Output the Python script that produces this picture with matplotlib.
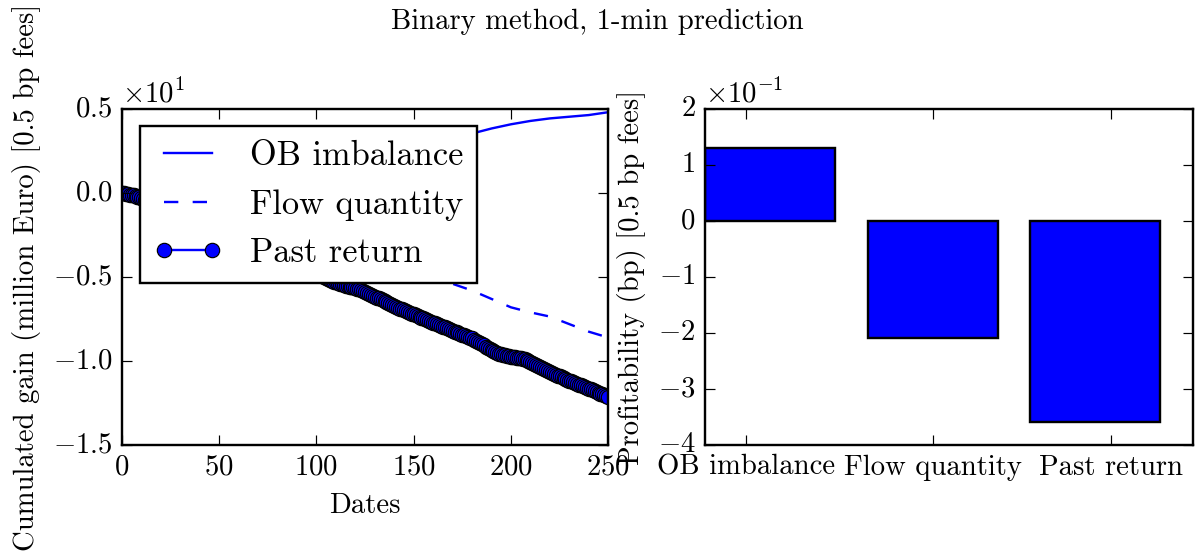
import numpy as np
import matplotlib
matplotlib.use('Agg')
import matplotlib.pyplot as plt

plt.style.use('classic')
plt.rcParams['font.family'] = 'serif'
plt.rcParams['font.serif'] = ['cmr10']
plt.rcParams['mathtext.fontset'] = 'cm'
plt.rcParams['axes.formatter.use_mathtext'] = True
plt.rcParams['savefig.facecolor'] = 'white'

DPI = 172

# cumulated gain per date (million Euro)
dates_past = np.arange(0, 251)
past_return = [
    0.00, -0.02, -0.04, -0.07, -0.09, -0.12, -0.14, -0.17, -0.21, -0.25,
    -0.30, -0.34, -0.39, -0.43, -0.48, -0.52, -0.57, -0.62, -0.66, -0.71,
    -0.76, -0.80, -0.85, -0.90, -0.94, -0.99, -1.04, -1.09, -1.13, -1.18,
    -1.23, -1.28, -1.33, -1.37, -1.42, -1.47, -1.52, -1.56, -1.61, -1.66,
    -1.71, -1.76, -1.80, -1.85, -1.90, -1.95, -2.00, -2.04, -2.09, -2.14,
    -2.19, -2.24, -2.28, -2.33, -2.38, -2.43, -2.48, -2.52, -2.57, -2.62,
    -2.67, -2.72, -2.77, -2.81, -2.86, -2.91, -2.96, -3.01, -3.06, -3.11,
    -3.16, -3.21, -3.26, -3.31, -3.36, -3.41, -3.46, -3.51, -3.56, -3.61,
    -3.66, -3.71, -3.76, -3.81, -3.86, -3.91, -3.96, -4.01, -4.06, -4.11,
    -4.16, -4.21, -4.26, -4.31, -4.36, -4.41, -4.46, -4.52, -4.58, -4.64,
    -4.70, -4.76, -4.83, -4.90, -4.97, -5.04, -5.10, -5.16, -5.22, -5.27,
    -5.32, -5.36, -5.40, -5.44, -5.47, -5.50, -5.53, -5.56, -5.58, -5.60,
    -5.63, -5.68, -5.73, -5.79, -5.85, -5.91, -5.97, -6.02, -6.07, -6.12,
    -6.17, -6.22, -6.27, -6.33, -6.38, -6.43, -6.49, -6.55, -6.61, -6.67,
    -6.72, -6.77, -6.82, -6.87, -6.92, -6.97, -7.02, -7.07, -7.12, -7.17,
    -7.22, -7.27, -7.32, -7.37, -7.42, -7.46, -7.51, -7.56, -7.61, -7.66,
    -7.71, -7.76, -7.81, -7.86, -7.91, -7.96, -8.00, -8.05, -8.10, -8.15,
    -8.20, -8.24, -8.29, -8.34, -8.38, -8.43, -8.47, -8.52, -8.56, -8.60,
    -8.65, -8.72, -8.79, -8.86, -8.93, -9.00, -9.07, -9.14, -9.21, -9.28,
    -9.34, -9.40, -9.45, -9.50, -9.55, -9.59, -9.63, -9.66, -9.69, -9.71,
    -9.73, -9.75, -9.77, -9.79, -9.81, -9.83, -9.86, -9.90, -9.95, -10.00,
    -10.06, -10.12, -10.18, -10.24, -10.30, -10.36, -10.42, -10.48, -10.54, -10.60,
    -10.66, -10.71, -10.76, -10.81, -10.86, -10.91, -10.96, -11.01, -11.06, -11.11,
    -11.16, -11.20, -11.25, -11.30, -11.35, -11.40, -11.44, -11.49, -11.54, -11.59,
    -11.64, -11.69, -11.74, -11.79, -11.84, -11.89, -11.94, -11.99, -12.04, -12.09,
    -12.15,
]

# the other two series, every 10 dates
dates_lines = [0, 10, 20, 30, 40, 50, 60, 70, 80, 90, 100, 110, 120, 130,
               140, 150, 160, 170, 180, 190, 200, 210, 220, 230, 240, 250]
ob_imbalance = [0.0, 0.2, 0.4, 0.6, 0.8, 1.0, 1.2, 1.4, 1.6, 1.8, 2.0, 2.2,
                2.4, 2.6, 2.8, 3.0, 3.1, 3.3, 3.55, 3.85, 4.1, 4.3, 4.45,
                4.55, 4.65, 4.82]
flow_quantity = [0.0, -0.3, -0.6, -0.9, -1.2, -1.5, -1.8, -2.1, -2.4, -2.8,
                 -3.2, -3.6, -4.0, -4.4, -4.7, -5.0, -5.2, -5.4, -5.8, -6.3,
                 -6.8, -7.1, -7.35, -7.8, -8.25, -8.6]

# profitability per method (bp)
methods = ['OB imbalance', 'Flow quantity', 'Past return']
profit = [0.131, -0.209, -0.359]
tick_pos = [0.25, 1.4, 2.5]

fig = plt.figure(figsize=(1195 / DPI, 557 / DPI), dpi=DPI)
fig.suptitle('Binary method, 1-min prediction', fontsize=12, y=0.985)

ax1 = fig.add_axes([0.102, 0.201, 0.407, 0.603])
ax1.plot(dates_lines, ob_imbalance, '-', color='b', label='OB imbalance')
ax1.plot(dates_lines, flow_quantity, '--', color='b', label='Flow quantity')
ax1.plot(dates_past, past_return, 'o-', color='b', label='Past return')
ax1.set_xlim(0, 250)
ax1.set_ylim(-15, 5)
ax1.set_xlabel('Dates')
ax1.set_ylabel('Cumulated gain (million Euro) [0.5 bp fees]')
ax1.ticklabel_format(axis='y', style='sci', scilimits=(0, 0))
ax1.legend(loc='upper left', bbox_to_anchor=(0.037, 0.949), borderaxespad=0.)

ax2 = fig.add_axes([0.590, 0.201, 0.408, 0.603])
ax2.bar(range(len(methods)), profit, width=0.8, align='edge', color='b',
        edgecolor='k')
ax2.set_xlim(0, 3)
ax2.set_ylim(-0.4, 0.2)
ax2.set_xticks(tick_pos)
ax2.set_xticklabels(methods)
ax2.set_ylabel('Profitability (bp) [0.5 bp fees]')
ax2.ticklabel_format(axis='y', style='sci', scilimits=(0, 0))

fig.savefig('out.png', dpi=DPI)
